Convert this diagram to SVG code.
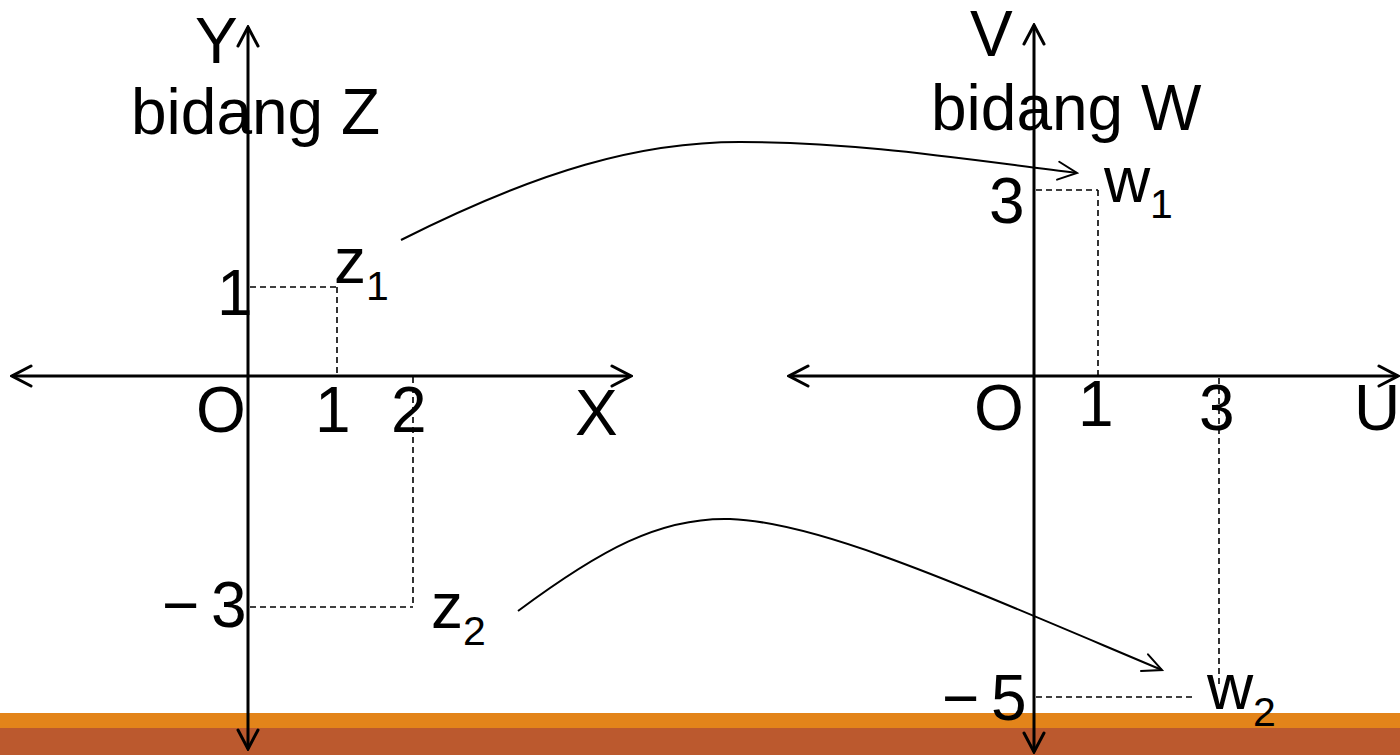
<svg xmlns="http://www.w3.org/2000/svg" width="1400" height="755" viewBox="0 0 1400 755">
<style>
  text { font-family: "Liberation Sans", Arial, sans-serif; fill: #000; }
  .lbl { font-size: 64px; }
  .sub { font-size: 41px; }
  .axis { stroke: #000; stroke-width: 3; fill: none; }
  .dash { stroke: #000; stroke-width: 1.6; stroke-dasharray: 6 4; fill: none; }
  .map { stroke: #000; stroke-width: 2; fill: none; }
</style>
<defs>
  <marker id="ah" viewBox="-22 -12 24 24" refX="0" refY="0" markerWidth="24" markerHeight="24" markerUnits="userSpaceOnUse" orient="auto-start-reverse">
    <path d="M-19,-10 L0,0 L-19,10" fill="none" stroke="#000" stroke-width="3" stroke-linecap="round" stroke-linejoin="miter"/>
  </marker>
  <marker id="ah2" viewBox="-22 -12 24 24" refX="0" refY="0" markerWidth="24" markerHeight="24" markerUnits="userSpaceOnUse" orient="auto">
    <path d="M-19,-9 L0,0 L-19,9" fill="none" stroke="#000" stroke-width="2" stroke-linecap="round"/>
  </marker>
</defs>
<rect x="0" y="0" width="1400" height="755" fill="#fff"/>
<g id="band">
  <rect x="0" y="713" width="1400" height="15" fill="#E3841A"/>
  <rect x="0" y="728" width="1400" height="27" fill="#BB592E"/>
</g>
<g id="plane-z">
  <text class="lbl" x="195" y="63">Y</text>
  <text class="lbl" x="131" y="134">bidang Z</text>
  <text class="lbl" x="196" y="432">O</text>
  <text class="lbl" x="575" y="435">X</text>
  <text class="lbl" x="217" y="315">1</text>
  <text class="lbl" x="315" y="432">1</text>
  <text class="lbl" x="391" y="432">2</text>
  <text class="lbl" y="627"><tspan x="162">−</tspan><tspan x="211">3</tspan></text>
  <line class="dash" x1="250" y1="287" x2="338" y2="287"/>
  <line class="dash" x1="337" y1="287" x2="337" y2="375"/>
  <line class="dash" x1="413" y1="377" x2="413" y2="607"/>
  <line class="dash" x1="250" y1="607" x2="413" y2="607"/>
</g>
<g id="z1">
  <text class="lbl" x="334" y="283">z</text>
  <text class="sub" x="366" y="300">1</text>
</g>
<g id="z2">
  <text class="lbl" x="431" y="628">z</text>
  <text class="sub" x="463" y="645">2</text>
</g>
<g id="plane-w">
  <text class="lbl" x="970" y="56">V</text>
  <text class="lbl" x="931" y="130">bidang W</text>
  <text class="lbl" x="974" y="430">O</text>
  <text class="lbl" x="1354" y="430">U</text>
  <text class="lbl" x="989" y="223">3</text>
  <text class="lbl" x="1078" y="426">1</text>
  <text class="lbl" x="1199" y="430">3</text>
  <text class="lbl" y="720"><tspan x="942">−</tspan><tspan x="991">5</tspan></text>
  <line class="dash" x1="1036" y1="190" x2="1098" y2="190"/>
  <line class="dash" x1="1098" y1="190" x2="1098" y2="375"/>
  <line class="dash" x1="1219" y1="378" x2="1219" y2="688"/>
  <line class="dash" x1="1036" y1="697" x2="1193" y2="697"/>
</g>
<g id="w1">
  <text class="lbl" x="1104" y="202">w</text>
  <text class="sub" x="1150" y="218">1</text>
</g>
<g id="w2">
  <text class="lbl" x="1207" y="709">w</text>
  <text class="sub" x="1253" y="726">2</text>
</g>
<g id="axes">
  <line class="axis" x1="248" y1="749" x2="248" y2="27" marker-start="url(#ah)" marker-end="url(#ah)"/>
  <line class="axis" x1="12" y1="376" x2="631" y2="376" marker-start="url(#ah)" marker-end="url(#ah)"/>
  <line class="axis" x1="1034" y1="752" x2="1034" y2="25" marker-start="url(#ah)" marker-end="url(#ah)"/>
  <line class="axis" x1="789" y1="376" x2="1398" y2="376" marker-start="url(#ah)" marker-end="url(#ah)"/>
</g>
<g id="connectors">
  <path class="map" d="M401,240 C540,170 640,142 740,142 C860,142 970,160 1077,173" marker-end="url(#ah2)"/>
  <path class="map" d="M518,611 C600,550 660,517 730,519 C820,522 960,585 1162,670" marker-end="url(#ah2)"/>
</g>
</svg>
